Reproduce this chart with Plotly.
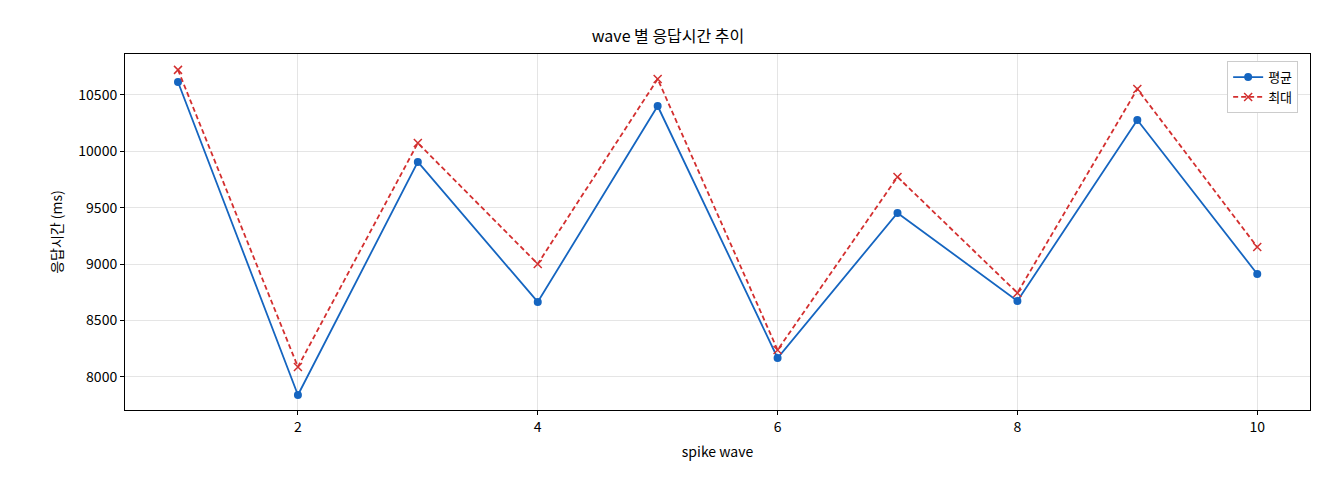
import plotly.graph_objects as go

waves = [1, 2, 3, 4, 5, 6, 7, 8, 9, 10]
avg_ms = [10615, 7840, 9906, 8665, 10402, 8168, 9454, 8674, 10278, 8913]
max_ms = [10722, 8089, 10074, 9002, 10642, 8239, 9773, 8745, 10553, 9152]

font = "Noto Sans CJK KR"
fig = go.Figure()
fig.add_trace(go.Scatter(x=waves, y=avg_ms, name="평균", mode="lines+markers",
                         line=dict(color="#1565c0", width=1.8), marker=dict(size=8, color="#1565c0")))
fig.add_trace(go.Scatter(x=waves, y=max_ms, name="최대", mode="lines+markers",
                         line=dict(color="#d32f2f", width=1.8, dash="5px,3px"),
                         marker=dict(symbol="x-thin", size=8, color="#d32f2f", line=dict(width=1.5, color="#d32f2f"))))
ax = dict(showline=True, mirror=True, linecolor="black", linewidth=1, ticks="outside",
          ticklen=4, tickcolor="black", gridcolor="rgba(0,0,0,0.1)", zeroline=False,
          tickfont=dict(size=14, color="black"), automargin=False)
fig.update_layout(
    width=1320, height=480, plot_bgcolor="white", paper_bgcolor="white",
    font=dict(family=font, size=13, color="black"),
    margin=dict(l=117, r=18, t=46, b=78),
    title=dict(text="wave 별 응답시간 추이", x=0.5, xanchor="center", y=0.94, yanchor="middle", font=dict(size=16)),
    xaxis=dict(ax, range=[0.558, 10.44], tickvals=[2, 4, 6, 8, 10],
               title=dict(text="spike wave", font=dict(size=14), standoff=12)),
    yaxis=dict(ax, range=[7707, 10863], tickvals=[8000, 8500, 9000, 9500, 10000, 10500],
               tickformat="d", title=dict(text="응답시간 (ms)", font=dict(size=14), standoff=12)),
    legend=dict(x=0.99, y=0.98, xanchor="right", yanchor="top", bgcolor="white",
                bordercolor="#ccc", borderwidth=1, font=dict(size=13)),
)
fig.write_html("out.html")
